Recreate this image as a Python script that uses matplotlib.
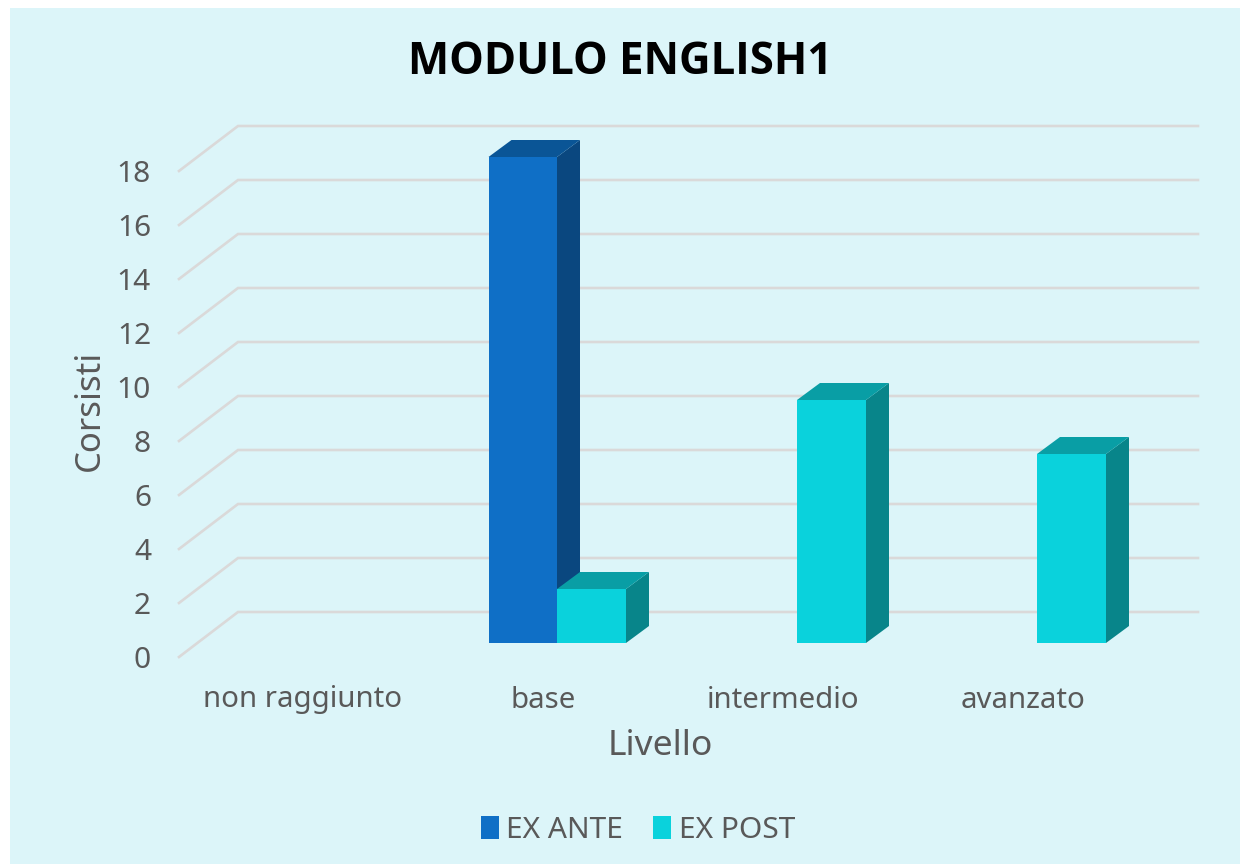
import matplotlib
matplotlib.use("Agg")
import matplotlib.pyplot as plt
from matplotlib.patches import Patch, Polygon, Rectangle

categories = ["non raggiunto", "base", "intermedio", "avanzato"]
ex_ante = [0, 18, 0, 0]
ex_post = [0, 2, 9, 7]
y_ticks = [0, 2, 4, 6, 8, 10, 12, 14, 16, 18]

plt.rcParams['font.family'] = ['Noto Sans', 'DejaVu Sans']
GREY = '#595959'
BG = '#DCF5F9'

# pixel scale of the front plane of the bars
PX_X = 240.0
PX_Y = 27.0
W, H = 1240, 864
X0, Y0 = 317, 643


def dx(px):
    return px / PX_X


def dy(px):
    return px / PX_Y


def bar3d(ax, x, val, w, front, top, side):
    if val <= 0:
        return
    ddx, ddy = dx(23), dy(17)
    ax.add_patch(Polygon([(x + w, 0), (x + w + ddx, ddy), (x + w + ddx, val + ddy), (x + w, val)],
                         fc=side, ec='none', zorder=3))
    ax.add_patch(Polygon([(x, val), (x + ddx, val + ddy), (x + w + ddx, val + ddy), (x + w, val)],
                         fc=top, ec='none', zorder=3))
    ax.add_patch(Rectangle((x, 0), w, val, fc=front, ec='none', zorder=4))


fig = plt.figure(figsize=(12.4, 8.64), dpi=100, facecolor='white')
ax = fig.add_axes([0, 0, 1, 1])
ax.set_xlim(-X0 / PX_X, (W - X0) / PX_X)
ax.set_ylim((Y0 - H) / PX_Y, Y0 / PX_Y)
ax.axis('off')

# background panel
ax.add_patch(Rectangle((dx(10 - X0), dy(Y0 - H)), dx(W), dy(H - 8), fc=BG, ec='none', zorder=0))

# gridlines: side wall then back wall
left = dx(179 - X0)
back_x = dx(238 - X0)
right = dx(1198 - X0)
for t in y_ticks:
    yf = t - dy(14)
    yb = t + dy(31)
    ax.plot([left, back_x, right], [yf, yb, yb], color='#DAD9D9', lw=1.9, zorder=1,
            solid_joinstyle='miter')

bw = 69 / PX_X
for i, (a, p) in enumerate(zip(ex_ante, ex_post)):
    bar3d(ax, i - bw + dx(0.5), a, bw - dx(0.5), '#0F6FC6', '#0A5596', '#0A477F')

for i, (a, p) in enumerate(zip(ex_ante, ex_post)):
    bar3d(ax, i, p, bw, '#0AD2DC', '#099EA5', '#08858A')

for t in y_ticks:
    ax.text(dx(151 - X0), t - dy(18), str(t), ha='right', va='center', fontsize=21.5, color=GREY)

for i, c in enumerate(categories):
    ax.text(i - dx(14), dy(Y0 - 700), c, ha='center', va='center', fontsize=21.2, color=GREY)

ax.text(dx(620 - X0), dy(Y0 - 62), "MODULO ENGLISH1", ha='center', va='center',
        fontsize=31.5, fontweight='bold', color='black', family='Open Sans')
ax.text(dx(660 - X0), dy(Y0 - 746), "Livello", ha='center', va='center', fontsize=25.5, color=GREY)
ax.text(dx(90 - X0), dy(Y0 - 410), "Corsisti", ha='center', va='center', rotation=90,
        fontsize=25, color=GREY)

handles = [Patch(fc='#0F6FC6', label='EX ANTE'), Patch(fc='#0AD2DC', label='EX POST')]
fig.legend(handles=handles, loc='center', bbox_to_anchor=(638 / W, 1 - 830 / H), ncol=2,
           frameon=False, fontsize=21.5, labelcolor=GREY, handlelength=0.6, handleheight=0.8,
           handletextpad=0.25, columnspacing=1.0)

fig.savefig('out.png', dpi=100, facecolor='white')
